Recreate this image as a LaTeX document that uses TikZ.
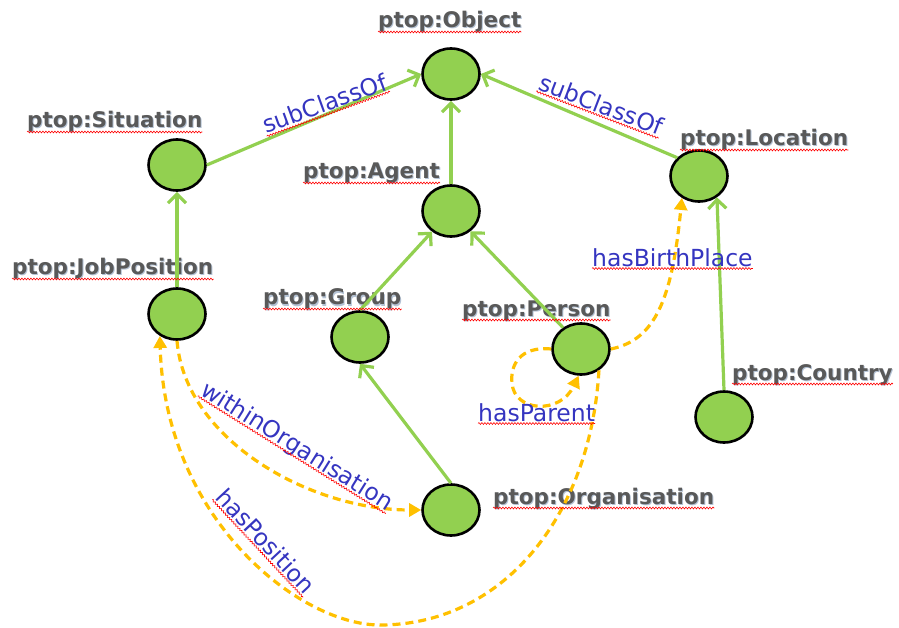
\documentclass[tikz,border=0pt]{standalone}
\usepackage{fontspec}
\setmainfont{DejaVu Sans}
\usetikzlibrary{arrows.meta,shapes.geometric,calc,decorations.pathmorphing}

\definecolor{nodegreen}{HTML}{92D050}
\definecolor{linkorange}{HTML}{FFC000}
\definecolor{labelgray}{HTML}{595959}
\definecolor{labelshade}{HTML}{B4C2D4}
\definecolor{relblue}{HTML}{3535C0}

% class name with a soft drop shadow; #2 is "x,y"
\newcommand\classlabel[3]{%
  \node[ttl, text=labelshade] at ([shift={(1,1)}]#2) {#3};
  \node[ttl] (#1) at (#2) {#3};}

\begin{document}
\begin{tikzpicture}[x=1pt, y=-1pt,
  cls/.style={ellipse, draw=black, line width=2.6pt, fill=nodegreen,
    minimum width=57pt, minimum height=51pt, inner sep=0pt},
  ttl/.style={font=\bfseries\fontsize{21.5}{24}\selectfont, text=labelgray,
    inner sep=0pt, anchor=base west},
  rel/.style={font=\fontsize{23.5}{26}\selectfont, text=relblue,
    inner sep=0pt, anchor=base west},
  isa/.style={draw=nodegreen, line width=3.2pt,
    -{Straight Barb[length=9pt,width=18pt]}},
  prop/.style={draw=linkorange, line width=3.2pt, dash pattern=on 8pt off 5pt,
    -{Triangle[length=12pt,width=13pt]}},
  squig/.style={draw=red, line width=0.6pt, decorate,
    decoration={snake, amplitude=0.9pt, segment length=3pt}}]

\useasboundingbox (0,0) rectangle (899,628);

% classes
\node[cls] (obj) at (451,74)  {};
\node[cls] (sit) at (177,165) {};
\node[cls] (agt) at (451,211) {};
\node[cls] (loc) at (699,176) {};
\node[cls] (job) at (177,314) {};
\node[cls] (grp) at (360,337) {};
\node[cls] (per) at (581,349) {};
\node[cls] (cty) at (724,417) {};
\node[cls] (org) at (451,510) {};

% class names
\classlabel{tobj}{378,28}{ptop:Object}
\classlabel{tsit}{27,128}{ptop:Situation}
\classlabel{tagt}{303,179}{ptop:Agent}
\classlabel{tloc}{680,146}{ptop:Location}
\classlabel{tjob}{12,275}{ptop:JobPosition}
\classlabel{tgrp}{263,305}{ptop:Group}
\classlabel{tper}{462,316}{ptop:Person}
\classlabel{tcty}{732,380}{ptop:Country}
\classlabel{torg}{493,504}{ptop:Organisation}

% subclass links
\draw[isa] (sit.east) -- (obj.west);
\draw[isa] (loc.140) -- (obj.east);
\draw[isa] (agt.north) -- (obj.south);
\draw[isa] (job.north) -- (sit.south);
\draw[isa] (grp.north) -- (agt);
\draw[isa] (per.130) -- (agt);
\draw[isa] (org.north) -- (grp.south);
\draw[isa] (cty.north) -- (loc.-50);

% object properties
\draw[prop] (per.east) .. controls (655,340) and (672,300) .. (loc.-128);
\draw[prop] (per.west) .. controls (520,346) and (510,365) .. (512,383)
            .. controls (514,412) and (560,415) .. (per.-95);
\draw[prop] (per.-50) .. controls (590,520) and (500,625) .. (380,625)
            .. controls (300,625) and (165,520) .. (job.-128);
\draw[prop] (job.south) .. controls (185,440) and (310,510) .. (org.west);

% relation names
\node[rel, rotate=20]  (lsc1) at (266,134) {subClassOf};
\node[rel, rotate=-21] (lsc2) at (537,89)  {subClassOf};
\node[rel]             (lbp)  at (592,266) {hasBirthPlace};
\node[rel]             (lhp)  at (478,421) {hasParent};
\node[rel, rotate=-32] (lwo)  at (199,394) {withinOrganisation};
\node[rel, rotate=-47] (lpo)  at (214,498) {hasPosition};

% spell-check underlines
\foreach \n/\d in {tobj/4pt, tsit/4pt, tagt/4pt, tloc/4pt, tjob/4pt, tgrp/4pt,
    tper/4pt, tcty/4pt, torg/4pt, lsc1/2.5pt, lsc2/2.5pt, lbp/2.5pt, lhp/2.5pt,
    lwo/2.5pt, lpo/2.5pt}
  \draw[squig] ($(\n.base west)!\d!-90:(\n.base east)$)
            -- ($(\n.base east)!\d!90:(\n.base west)$);
\end{tikzpicture}
\end{document}
